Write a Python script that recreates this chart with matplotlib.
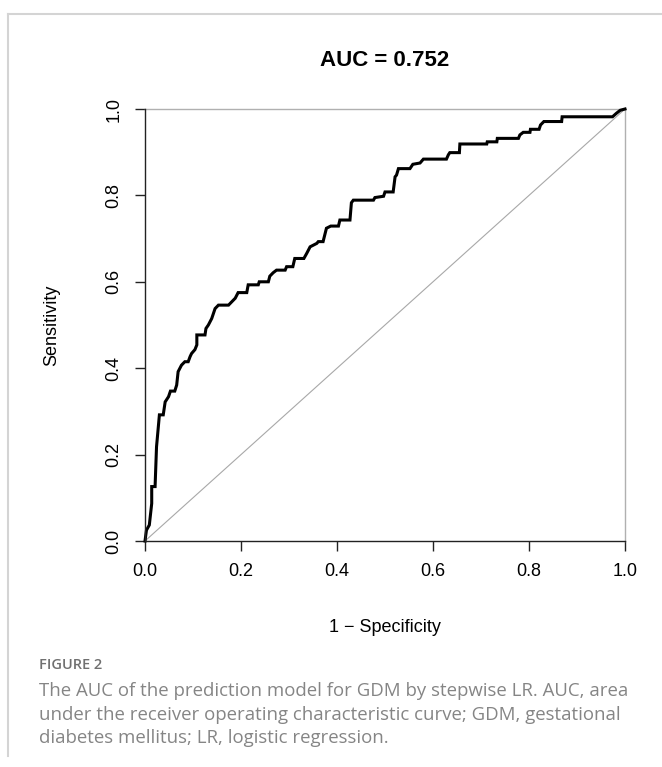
import matplotlib
matplotlib.use("Agg")
import matplotlib.pyplot as plt
from matplotlib.lines import Line2D

# ROC curve vertices (1 - specificity, sensitivity)
fpr = [0.000, 0.003, 0.009, 0.014, 0.014, 0.021, 0.024, 0.030, 0.038, 0.042,
       0.049, 0.053, 0.062, 0.066, 0.069, 0.076, 0.083, 0.090, 0.094, 0.097,
       0.104, 0.108, 0.108, 0.125, 0.127, 0.132, 0.139, 0.146, 0.153, 0.174,
       0.181, 0.188, 0.194, 0.212, 0.215, 0.236, 0.238, 0.257, 0.260, 0.267,
       0.274, 0.292, 0.295, 0.308, 0.312, 0.331, 0.337, 0.344, 0.358, 0.361,
       0.371, 0.378, 0.387, 0.403, 0.406, 0.427, 0.430, 0.434, 0.476, 0.479,
       0.497, 0.500, 0.517, 0.521, 0.524, 0.528, 0.552, 0.558, 0.573, 0.580,
       0.628, 0.632, 0.635, 0.655, 0.656, 0.712, 0.713, 0.733, 0.734, 0.778,
       0.781, 0.788, 0.802, 0.803, 0.821, 0.824, 0.831, 0.868, 0.869, 0.974,
       0.982, 0.990, 1.000]
tpr = [0.000, 0.025, 0.037, 0.087, 0.126, 0.126, 0.218, 0.292, 0.292, 0.322,
       0.334, 0.347, 0.347, 0.361, 0.392, 0.407, 0.415, 0.415, 0.427, 0.434,
       0.443, 0.454, 0.477, 0.477, 0.492, 0.500, 0.515, 0.538, 0.546, 0.546,
       0.554, 0.562, 0.575, 0.575, 0.593, 0.593, 0.600, 0.600, 0.613, 0.621,
       0.627, 0.627, 0.635, 0.635, 0.654, 0.654, 0.666, 0.681, 0.689, 0.693,
       0.693, 0.724, 0.729, 0.729, 0.743, 0.743, 0.783, 0.789, 0.789, 0.795,
       0.798, 0.808, 0.808, 0.843, 0.847, 0.862, 0.862, 0.872, 0.875, 0.884,
       0.884, 0.894, 0.899, 0.899, 0.919, 0.919, 0.924, 0.924, 0.932, 0.932,
       0.940, 0.946, 0.946, 0.953, 0.953, 0.963, 0.971, 0.971, 0.982, 0.982,
       0.990, 0.997, 1.000]
auc = 0.752
ticks = [0.0, 0.2, 0.4, 0.6, 0.8, 1.0]

caption_head = "FIGURE 2"
caption_lines = [
    "The AUC of the prediction model for GDM by stepwise LR. AUC, area",
    "under the receiver operating characteristic curve; GDM, gestational",
    "diabetes mellitus; LR, logistic regression.",
]

W, H = 662, 767
fig = plt.figure(figsize=(W / 100, H / 100), dpi=100)
plt.rcParams['font.family'] = ['Liberation Sans', 'DejaVu Sans']

# axes box in pixels: x 145..625, y 109..541
ax = fig.add_axes([145 / W, 1 - 541 / H, 480 / W, 432 / H])
ax.set_xlim(0, 1)
ax.set_ylim(0, 1)

ax.plot([0, 1], [0, 1], color='#a8a8a8', lw=0.8, clip_on=False)
ax.plot([0, 1], [1, 1], color='#b0b0b0', lw=1.0, clip_on=False)
ax.plot([1, 1], [0, 1], color='#b0b0b0', lw=1.0, clip_on=False)
ax.plot(fpr, tpr, color='black', lw=2.2, clip_on=False, solid_joinstyle='miter')

for side in ['top', 'right']:
    ax.spines[side].set_visible(False)
for side in ['left', 'bottom']:
    ax.spines[side].set_linewidth(1.0)
    ax.spines[side].set_color('#222222')

ax.set_xticks(ticks)
ax.set_yticks(ticks)
ax.set_xticklabels([f"{t:.1f}" for t in ticks])
ax.set_yticklabels([f"{t:.1f}" for t in ticks], rotation=90, va='center')
ax.tick_params(direction='out', length=7.2, width=1.0, labelsize=13,
               pad=9, colors='#222222', labelcolor='black')

fig.text(385 / W, 1 - 60 / H, f"AUC = {auc:.3f}", ha='center', va='center',
         fontsize=16, fontweight='bold')
fig.text(385 / W, 1 - 627 / H, "1 \u2212 Specificity", ha='center', va='center',
         fontsize=13)
fig.text(52 / W, 1 - 325 / H, "Sensitivity", ha='center', va='center',
         rotation=90, fontsize=13)

# page frame
fig.add_artist(Line2D([8 / W, 1], [1 - 14 / H, 1 - 14 / H], color='#d4d4d4', lw=1.5))
fig.add_artist(Line2D([8 / W, 8 / W], [1 - 14 / H, 1 - 756 / H], color='#d4d4d4', lw=1.5))

fig.text(39 / W, 1 - 665 / H, caption_head, ha='left', va='center',
         fontsize=10.5, fontweight='semibold', color='#707070',
         family=['Open Sans', 'DejaVu Sans'])
for i, line in enumerate(caption_lines):
    fig.text(39 / W, 1 - (691 + 23.5 * i) / H, line, ha='left', va='center',
             fontsize=13.4, color='#858585', family=['Open Sans', 'DejaVu Sans'])

fig.savefig("out.png", dpi=100)
